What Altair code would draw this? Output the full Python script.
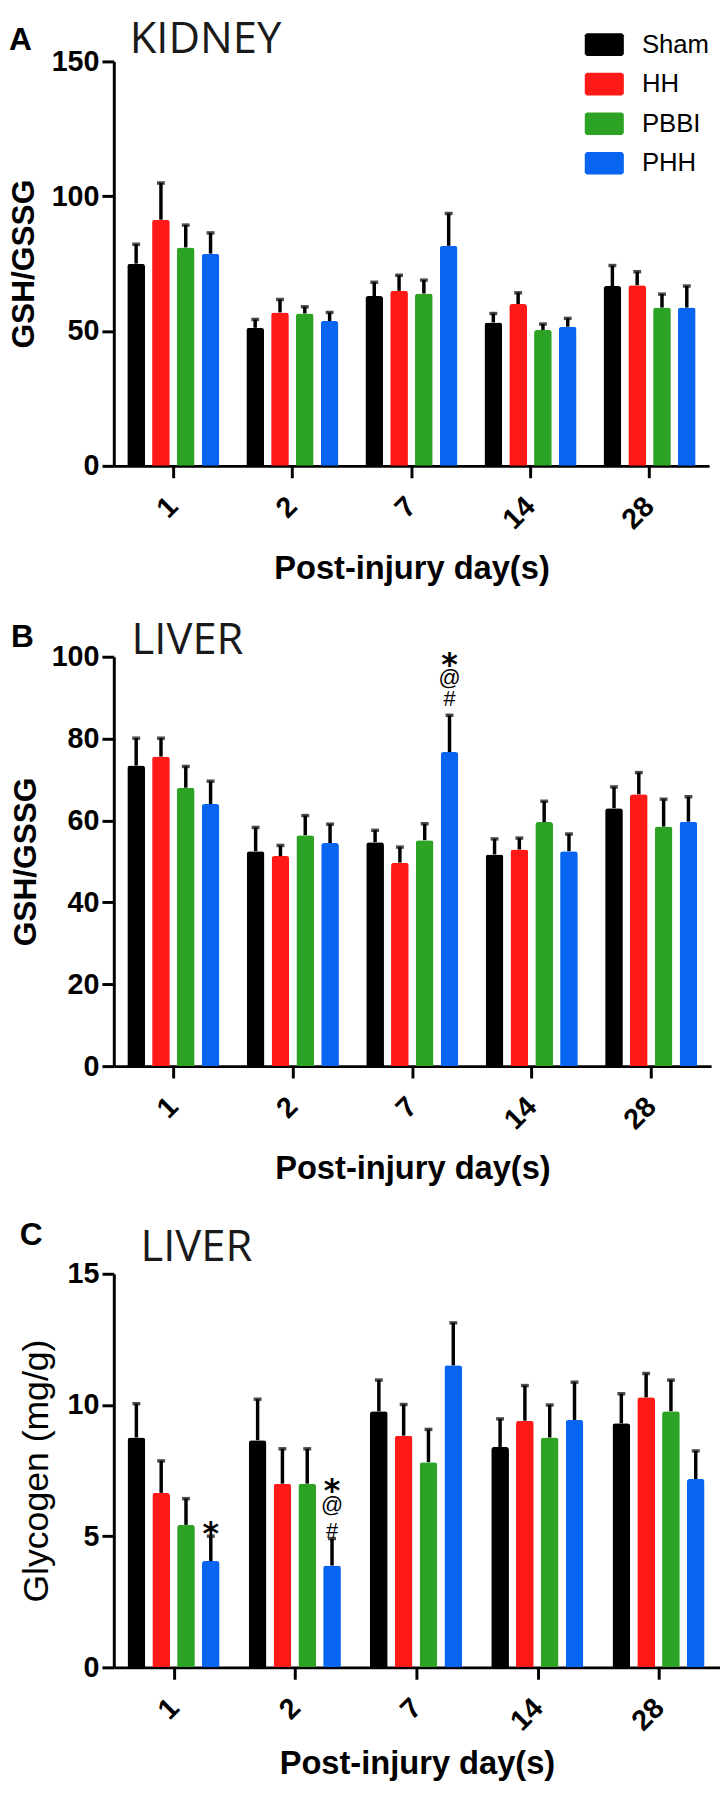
import altair as alt
import pandas as pd

# ---------------- data ----------------
days = ["1", "2", "7", "14", "28"]
groups = ["Sham", "HH", "PBBI", "PHH"]
colors = ["#000000", "#FF1A17", "#2CA325", "#0865F2"]

panel_letters = ["A", "B", "C"]
panel_titles = ["KIDNEY", "LIVER", "LIVER"]
y_titles = ["GSH/GSSG", "GSH/GSSG", "Glycogen (mg/g)"]
x_title = "Post-injury day(s)"
y_max = [150, 100, 15]
y_ticks = [[0, 50, 100, 150], [0, 20, 40, 60, 80, 100], [0, 5, 10, 15]]

# Panel A: kidney GSH/GSSG (mean, error)
kidney_sham = [75.0, 51.2, 63.0, 53.2, 66.7]
kidney_sham_err = [7.2, 3.1, 5.1, 3.3, 7.6]
kidney_hh = [91.3, 56.9, 64.9, 60.0, 67.0]
kidney_hh_err = [13.6, 4.8, 5.8, 4.2, 5.0]
kidney_pbbi = [81.0, 56.5, 63.9, 50.4, 58.7]
kidney_pbbi_err = [8.3, 2.5, 5.0, 2.2, 5.0]
kidney_phh = [78.7, 53.7, 81.6, 51.6, 58.7]
kidney_phh_err = [7.7, 3.2, 12.0, 3.1, 8.0]

# Panel B: liver GSH/GSSG
liver_sham = [73.4, 52.5, 54.7, 51.7, 63.0]
liver_sham_err = [6.7, 5.8, 2.9, 3.8, 5.2]
liver_hh = [75.6, 51.3, 49.7, 52.9, 66.4]
liver_hh_err = [4.5, 2.6, 3.8, 2.8, 5.3]
liver_pbbi = [68.0, 56.4, 55.2, 59.6, 58.5]
liver_pbbi_err = [5.2, 4.8, 4.0, 5.1, 6.7]
liver_phh = [64.0, 54.5, 76.7, 52.5, 59.7]
liver_phh_err = [5.6, 4.6, 9.0, 4.2, 6.1]

# Panel C: liver glycogen (mg/g)
glyco_sham = [8.76, 8.66, 9.76, 8.40, 9.30]
glyco_sham_err = [1.29, 1.56, 1.19, 1.07, 1.13]
glyco_hh = [6.65, 7.00, 8.83, 9.40, 10.29]
glyco_hh_err = [1.22, 1.33, 1.19, 1.34, 0.91]
glyco_pbbi = [5.43, 7.00, 7.82, 8.76, 9.76]
glyco_pbbi_err = [1.00, 1.33, 1.25, 1.24, 1.19]
glyco_phh = [4.05, 3.88, 11.51, 9.43, 7.18]
glyco_phh_err = [0.95, 1.03, 1.62, 1.44, 1.07]

# significance marks
liver_mark_days = ["7", "7", "7"]
liver_mark_groups = ["PHH", "PHH", "PHH"]
liver_mark_text = ["*", "@", "#"]
liver_mark_pos = [99.9, 94.8, 89.7]

glyco_mark_days = ["1", "2", "2", "2"]
glyco_mark_groups = ["PHH", "PHH", "PHH", "PHH"]
glyco_mark_text = ["*", "*", "@", "#"]
glyco_mark_pos = [5.38, 7.0, 6.17, 5.21]


def long_df(series, errs):
    rows = []
    for g, vals, es in zip(groups, series, errs):
        for d, v, e in zip(days, vals, es):
            rows.append({"day": d, "group": g, "value": v, "err": e, "upper": v + e})
    return pd.DataFrame(rows)


df_a = long_df([kidney_sham, kidney_hh, kidney_pbbi, kidney_phh],
               [kidney_sham_err, kidney_hh_err, kidney_pbbi_err, kidney_phh_err])
df_b = long_df([liver_sham, liver_hh, liver_pbbi, liver_phh],
               [liver_sham_err, liver_hh_err, liver_pbbi_err, liver_phh_err])
df_c = long_df([glyco_sham, glyco_hh, glyco_pbbi, glyco_phh],
               [glyco_sham_err, glyco_hh_err, glyco_pbbi_err, glyco_phh_err])

ann_b = pd.DataFrame({"day": liver_mark_days, "group": liver_mark_groups,
                      "label": liver_mark_text, "pos": liver_mark_pos})
ann_c = pd.DataFrame({"day": glyco_mark_days, "group": glyco_mark_groups,
                      "label": glyco_mark_text, "pos": glyco_mark_pos})

FONT = "Liberation Sans"
legend_path = "M-0.9,-0.58H0.9L1,-0.48V0.48L0.9,0.58H-0.9L-1,0.48V-0.48Z"


def panel(idx, df, ann, geo):
    ytitle = y_titles[idx]
    xs = alt.Scale(paddingInner=0.226, paddingOuter=0.113)
    xo = alt.Scale(paddingInner=0.285, paddingOuter=0)
    ys = alt.Scale(domain=[0, y_max[idx]], nice=False)

    xaxis = alt.Axis(title=x_title, labelAngle=-45, labelAlign="right",
                     labelBaseline="middle", labelPadding=24,
                     titleFontSize=33, titleFontWeight="bold", titleFont=FONT,
                     titleY=geo["xtY"], titleBaseline="alphabetic")
    yaxis = alt.Axis(values=y_ticks[idx], title=ytitle, labelPadding=3,
                     labelFlush=False, titleFont=FONT,
                     titleFontSize=geo["ytfs"], titleFontWeight=geo["ytfw"],
                     titleX=geo["titleX"], titleBaseline="bottom", titleAngle=-90)

    if geo.get("legend"):
        leg = alt.Legend(orient="none", legendX=geo["legX"], legendY=geo["legY"],
                         title=None, symbolType=legend_path, symbolSize=1560,
                         symbolStrokeWidth=0, symbolOpacity=1,
                         labelFont=FONT, labelFontSize=26, labelColor="black",
                         labelOffset=18, rowPadding=7, padding=0)
    else:
        leg = None

    bars = alt.Chart(df).mark_bar(cornerRadiusTopLeft=3, cornerRadiusTopRight=3).encode(
        x=alt.X("day:N", sort=days, scale=xs, axis=xaxis),
        xOffset=alt.XOffset("group:N", sort=groups, scale=xo),
        y=alt.Y("value:Q", scale=ys, axis=yaxis),
        color=alt.Color("group:N", sort=groups,
                        scale=alt.Scale(domain=groups, range=colors), legend=leg),
    )
    errs = alt.Chart(df).mark_rule(strokeWidth=3.5, color="black").encode(
        x=alt.X("day:N", sort=days, title=x_title),
        xOffset=alt.XOffset("group:N", sort=groups),
        y=alt.Y("value:Q", title=ytitle),
        y2="upper:Q",
    )
    caps = alt.Chart(df).mark_tick(color="black", thickness=3.5, size=8).encode(
        x=alt.X("day:N", sort=days, title=x_title),
        xOffset=alt.XOffset("group:N", sort=groups),
        y=alt.Y("upper:Q", title=ytitle),
    )
    layers = [bars, errs, caps]

    if ann is not None:
        stars = alt.Chart(ann).transform_filter(alt.datum.label == "*").mark_text(
            font="DejaVu Sans", fontWeight="bold", fontSize=32, baseline="middle",
            dy=8, color="black").encode(
            x=alt.X("day:N", sort=days, title=x_title),
            xOffset=alt.XOffset("group:N", sort=groups),
            y=alt.Y("pos:Q", title=ytitle),
            text="label:N",
        )
        others = alt.Chart(ann).transform_filter(alt.datum.label != "*").mark_text(
            font=FONT, fontSize=22, baseline="middle", color="black").encode(
            x=alt.X("day:N", sort=days, title=x_title),
            xOffset=alt.XOffset("group:N", sort=groups),
            y=alt.Y("pos:Q", title=ytitle),
            text="label:N",
        )
        layers += [stars, others]

    letter = alt.Chart(pd.DataFrame({"t": [panel_letters[idx]]})).mark_text(
        align="left", baseline="alphabetic", font=FONT, fontWeight="bold",
        fontSize=32, color="black").encode(
        x=alt.value(geo["letX"]), y=alt.value(geo["letY"]), text="t:N")
    organ = alt.Chart(pd.DataFrame({"t": [panel_titles[idx]]})).mark_text(
        align="left", baseline="alphabetic", font="Open Sans", fontSize=44,
        color="#1a1a1a").encode(
        x=alt.value(geo["ttlX"]), y=alt.value(geo["ttlY"]), text="t:N")
    layers += [letter, organ]

    return alt.layer(*layers).properties(width=geo["w"], height=geo["h"])


geo_a = dict(w=602, h=409, titleX=-74, ytfs=32, ytfw="bold", letX=-106, letY=-12,
             ttlX=16, ttlY=-9, xtY=114, legend=True, legX=476, legY=-37)
geo_b = dict(w=604, h=414, titleX=-72, ytfs=32, ytfw="bold", letX=-104, letY=-10,
             ttlX=18, ttlY=-3, xtY=114)
geo_c = dict(w=613, h=398, titleX=-59, ytfs=36, ytfw="normal", letX=-95, letY=-29,
             ttlX=27, ttlY=-13, xtY=107)

pa = panel(0, df_a, None, geo_a)
pb = panel(1, df_b, ann_b, geo_b)
pc = panel(2, df_c, ann_c, geo_c)

chart = alt.concat(pa, pb, pc, columns=1, spacing=34, align="none", padding=0).resolve_scale(
    color="independent").resolve_legend(color="independent").configure_view(
    strokeWidth=0).configure_axis(
    domainColor="black", domainWidth=3, tickColor="black", tickWidth=3, tickSize=12,
    labelFont=FONT, labelFontWeight="bold", labelFontSize=29, labelColor="black",
    titleColor="black", grid=False)

chart.save("out.html", embed_options={"renderer": "svg", "actions": False})
